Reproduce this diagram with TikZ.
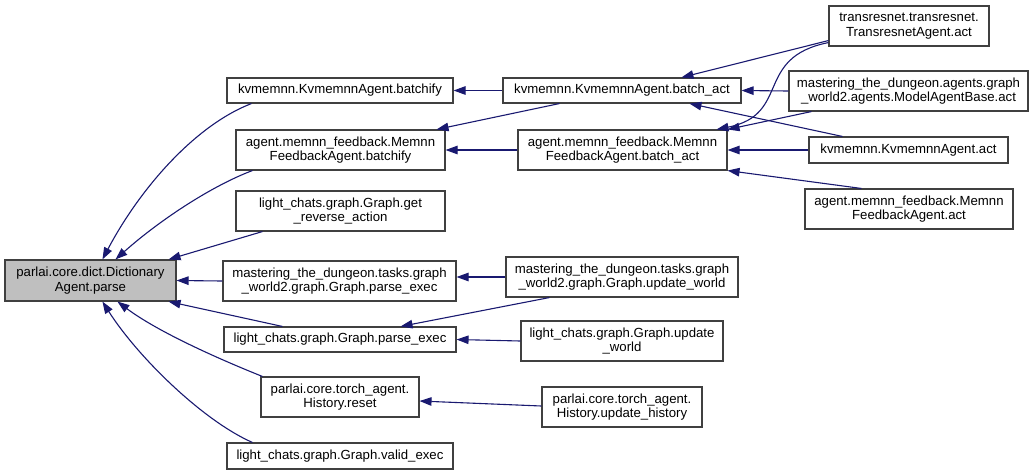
\documentclass[tikz,border=0pt]{standalone}
\usepackage{fontspec}
\setmainfont{Liberation Sans}
\usetikzlibrary{arrows.meta}
\definecolor{grey25}{RGB}{64,64,64}
\definecolor{grey75}{RGB}{191,191,191}
\definecolor{midnight}{RGB}{25,25,112}
\begin{document}
\begin{tikzpicture}[x=1pt,y=-1pt,
  box/.style={draw=grey25, fill=white, line width=1.1pt, inner sep=0pt, align=center,
    font=\fontsize{13.2}{14.6}\selectfont},
  rootbox/.style={box, fill=grey75},
  edge/.style={draw=midnight, line width=1.1pt, -{Triangle[length=12pt,width=8.5pt]}}]
\useasboundingbox (0,0) rectangle (1033,475);
% column 1
\node[rootbox, minimum width=171pt, minimum height=41pt] (root) at (90.5,280.5) {parlai.core.dict.Dictionary\\Agent.parse};
% column 2
\node[box, minimum width=226pt, minimum height=25pt] (kb) at (340,90.5) {kvmemnn.KvmemnnAgent.batchify};
\node[box, minimum width=209pt, minimum height=40pt] (mb) at (340.5,150) {agent.memnn\_feedback.Memnn\\FeedbackAgent.batchify};
\node[box, minimum width=209pt, minimum height=40pt] (gra) at (340.5,211) {light\_chats.graph.Graph.get\\\_reverse\_action};
\node[box, minimum width=233pt, minimum height=40pt] (mpe) at (339.5,281) {mastering\_the\_dungeon.tasks.graph\\\_world2.graph.Graph.parse\_exec};
\node[box, minimum width=232pt, minimum height=25pt] (lpe) at (340,339.5) {light\_chats.graph.Graph.parse\_exec};
\node[box, minimum width=158pt, minimum height=40pt] (hr) at (340,397) {parlai.core.torch\_agent.\\History.reset};
\node[box, minimum width=226pt, minimum height=26pt] (ve) at (340,456) {light\_chats.graph.Graph.valid\_exec};
% column 3
\node[box, minimum width=238pt, minimum height=25pt] (kba) at (622,90.5) {kvmemnn.KvmemnnAgent.batch\_act};
\node[box, minimum width=209pt, minimum height=40pt] (mba) at (622.5,150) {agent.memnn\_feedback.Memnn\\FeedbackAgent.batch\_act};
\node[box, minimum width=232pt, minimum height=40pt] (mud) at (622,277) {mastering\_the\_dungeon.tasks.graph\\\_world2.graph.Graph.update\_world};
\node[box, minimum width=202pt, minimum height=40pt] (lud) at (622,341) {light\_chats.graph.Graph.update\\\_world};
\node[box, minimum width=160pt, minimum height=40pt] (uh) at (622,407) {parlai.core.torch\_agent.\\History.update\_history};
% column 4
\node[box, minimum width=160pt, minimum height=40pt] (ta) at (909,26) {transresnet.transresnet.\\TransresnetAgent.act};
\node[box, minimum width=239pt, minimum height=40pt] (mab) at (908.5,91) {mastering\_the\_dungeon.agents.graph\\\_world2.agents.ModelAgentBase.act};
\node[box, minimum width=199pt, minimum height=26pt] (ka) at (908.5,150) {kvmemnn.KvmemnnAgent.act};
\node[box, minimum width=208pt, minimum height=40pt] (ma) at (909,209) {agent.memnn\_feedback.Memnn\\FeedbackAgent.act};
% edges into root
\draw[edge] ([xshift=25pt]kb.south west) .. controls +(-57,22) and +(37,-70) .. ([xshift=98pt]root.north west);
\draw[edge] ([xshift=17pt]mb.south west) .. controls +(-40,15) and +(45,-40) .. ([xshift=111pt]root.north west);
\draw[edge] ([xshift=27pt]gra.south west) -- ([xshift=-8pt]root.north east);
\draw[edge] (mpe.west) -- (root.east);
\draw[edge] ([xshift=59pt]lpe.north west) -- ([xshift=-8pt]root.south east);
\draw[edge] ([xshift=2pt]hr.north west) .. controls +(-45,-18) and +(40,30) .. ([xshift=113pt]root.south west);
\draw[edge] ([xshift=26pt]ve.north west) .. controls +(-50,-22) and +(35,55) .. ([xshift=98pt]root.south west);
% column 3 -> column 2
\draw[edge] (kba.west) -- (kb.east);
\draw[edge] ([xshift=57pt]kba.south west) -- ([xshift=-9pt]mb.north east);
\draw[edge] (mba.west) -- (mb.east);
\draw[edge] (mud.west) -- (mpe.east |- mud.west);
\draw[edge] ([xshift=44pt]mud.south west) -- ([xshift=-56pt]lpe.north east);
\draw[edge] (lud.west) -- (lpe.east);
\draw[edge] ([yshift=1pt]uh.west) -- ([yshift=-4pt]hr.east);
% column 4 -> column 3
\draw[edge] ([yshift=6pt]ta.south west) -- ([xshift=179pt]kba.north west);
\draw[edge] (mab.west) -- (kba.east);
\draw[edge] ([xshift=34pt]ka.north west) -- ([xshift=187pt]kba.south west);
\draw[edge] ([yshift=4pt]ta.south west) .. controls +(-75,15) and +(75,-15) .. ([xshift=-11pt]mba.north east);
\draw[edge] ([xshift=23pt]mab.south west) -- (mba.north east);
\draw[edge] (ka.west) -- (mba.east);
\draw[edge] ([xshift=57pt]ma.north west) -- (mba.south east);
\end{tikzpicture}
\end{document}
